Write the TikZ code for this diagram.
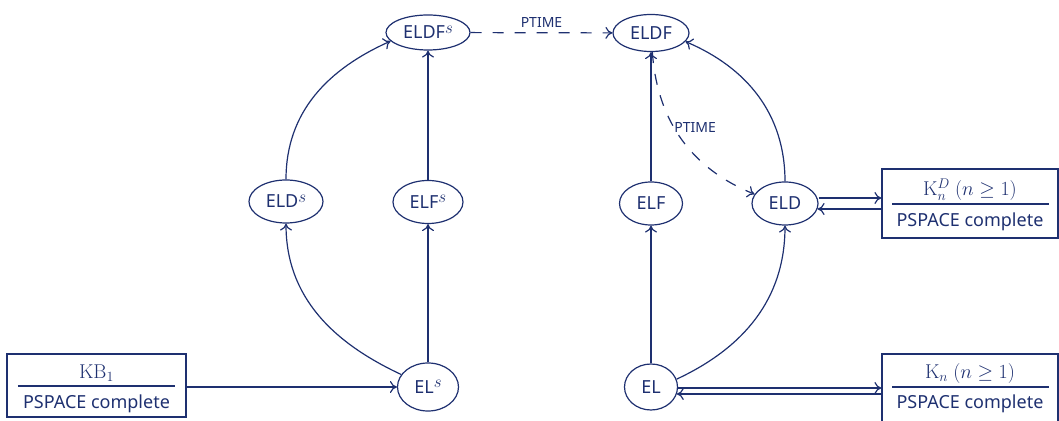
\documentclass[tikz,border=0pt]{standalone}
\usepackage{fix-cm}
\usepackage[no-math]{fontspec}
\setmainfont{Noto Sans}
\usetikzlibrary{arrows.meta,shapes.geometric}
\definecolor{ink}{RGB}{30,48,112}
% raised italic s marking the "s" variants of the logics
\newcommand{\supS}{\raisebox{5.6pt}{\fontsize{17}{17}\selectfont$s$}}
\begin{document}
\begin{tikzpicture}[x=1pt,y=1pt,
  every node/.style={text=ink},
  logic/.style={draw=ink, ellipse, line width=1.2pt, inner sep=0pt,
                font=\fontsize{18}{22}\selectfont},
  frame/.style={draw=ink, rectangle, line width=1.2pt, inner sep=0pt},
  txt/.style={font=\fontsize{18}{22}\selectfont, inner sep=0pt, anchor=base},
  mtxt/.style={font=\fontsize{20}{24}\selectfont, inner sep=0pt, anchor=base},
  fracrule/.style={draw=ink, line width=1.1pt},
  arr/.style={draw=ink, line width=1.2pt, -{To[length=7pt,width=12pt]}},
  dsh/.style={arr, dash pattern=on 11pt off 11pt},
  lbl/.style={font=\fontsize{14}{16}\selectfont, inner sep=2pt}]
\useasboundingbox (0,0) rectangle (1059,420);

% logics
\node[logic, minimum width=84pt, minimum height=35pt] (ELDFs) at (428,387.5) {ELDF\supS};
\node[logic, minimum width=76pt, minimum height=37pt] (ELDF)  at (651,387)   {ELDF};
\node[logic, minimum width=74pt, minimum height=43pt] (ELDs)  at (286,218.5) {ELD\supS};
\node[logic, minimum width=70pt, minimum height=43pt] (ELFs)  at (428,218)   {ELF\supS};
\node[logic, minimum width=63pt, minimum height=43pt] (ELF)   at (651,216.5) {ELF};
\node[logic, minimum width=66pt, minimum height=43pt] (ELD)   at (785,216.5) {ELD};
\node[logic, minimum width=61pt, minimum height=48pt] (ELs)   at (428,33)    {EL\supS};
\node[logic, minimum width=53pt, minimum height=46pt] (EL)    at (651,33)    {EL};

% complexity boxes
\node[frame, minimum width=179pt, minimum height=63pt] (KB) at (96.5,34.5) {};
\node[mtxt] (KBnum) at (96.5,41.5) {$\mathrm{KB}_1$};
\node[txt] (KBden) at (96.5,12) {PSPACE complete};
\draw[fracrule] ([shift={(11.5pt,-0.5pt)}]KB.west) -- ([shift={(-11.5pt,-0.5pt)}]KB.east);

\node[frame, minimum width=176pt, minimum height=69pt] (KD) at (970,216.5) {};
\node[mtxt] (KDnum) at (970,224) {$\mathrm{K}_n^D\ (n \geq 1)$};
\node[txt] (KDden) at (970,193) {PSPACE complete};
\draw[fracrule] ([shift={(11pt,-0.5pt)}]KD.west) -- ([shift={(-10pt,-0.5pt)}]KD.east);

\node[frame, minimum width=176pt, minimum height=74pt] (Kn) at (970,29) {};
\node[mtxt] (Knnum) at (970,41.5) {$\mathrm{K}_n\ (n \geq 1)$};
\node[txt] (Knden) at (970,11.5) {PSPACE complete};
\draw[fracrule] ([shift={(11pt,4pt)}]Kn.west) -- ([shift={(-10pt,4pt)}]Kn.east);

% left half
\draw[arr] (ELs.west -| KB.east) -- (ELs.west);
\draw[arr] (ELs.155) to[out=155, in=-90] (ELDs.south);
\draw[arr] (ELs) -- (ELFs);
\draw[arr] (ELFs) -- (ELDFs);
\draw[arr] (ELDs.north) to[out=90, in=204] (ELDFs.193);

% bridge between the halves
\draw[dsh] (ELDFs) -- (ELDF) node[midway, above, lbl, yshift=3pt] (pt1) {PTIME};

% right half
\draw[arr] (EL) -- (ELF);
\draw[arr] (ELF) -- (ELDF);
\draw[arr] (EL.17) to[out=25, in=-90] (ELD.south);
\draw[arr] (ELD.north) to[out=90, in=-23] (ELDF.-14);
\draw[dsh] (ELDF.-86) to[out=-86, in=158] node[pos=0.42, right, lbl, inner sep=0pt] (pt2) {PTIME} (ELD.163);

% links to the boxes
\draw[arr] ([yshift=5.5pt]ELD.east) -- ([yshift=5.5pt]KD.west);
\draw[arr] ([yshift=-5.5pt]KD.west) -- ([shift={(-1pt,-5.5pt)}]ELD.east);
\draw[arr] ([yshift=3pt]Kn.west -| EL.east) -- ([yshift=3pt]Kn.west);
\draw[arr] ([yshift=-3pt]Kn.west) -- ([shift={(-1.3pt,-3pt)}]Kn.west -| EL.east);
\end{tikzpicture}
\end{document}
